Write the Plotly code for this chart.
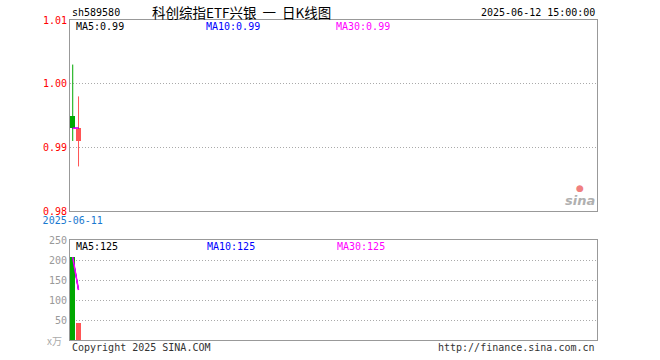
import plotly.graph_objects as go

# ---------------- data ----------------
dates = ["2025-06-11", "2025-06-12"]
opens = [0.995, 0.991]
highs = [1.003, 0.998]
lows = [0.991, 0.987]
closes = [0.993, 0.993]
volumes = [207, 43]          # 万
price_ticks = [0.98, 0.99, 1.00, 1.01]
vol_ticks = [50, 100, 150, 200, 250]
code = "sh589580"
title_text = "科创综指ETF兴银\u00a0\u00a0一\u00a0\u00a0日K线图"
stamp = "2025-06-12 15:00:00"

UP = "#ff5555"
DOWN = "#00a800"
MONO = "DejaVu Sans Mono"

def ma(vals, n):
    out = []
    for i in range(len(vals)):
        w = vals[max(0, i - n + 1): i + 1]
        out.append(sum(w) / len(w))
    return out

xs = list(range(len(dates)))
cols = [UP if c >= o else DOWN for o, c in zip(opens, closes)]

fig = go.Figure()

# wicks
for i in xs:
    fig.add_trace(go.Scatter(x=[i, i], y=[lows[i], highs[i]], mode="lines",
                             line=dict(color=cols[i], width=1), xaxis="x", yaxis="y",
                             hoverinfo="skip", showlegend=False))
# bodies
fig.add_trace(go.Bar(x=xs, y=[abs(c - o) for o, c in zip(opens, closes)],
                     base=[min(o, c) for o, c in zip(opens, closes)],
                     marker=dict(color=cols, line=dict(width=0)), width=0.8,
                     xaxis="x", yaxis="y", showlegend=False))
# price MAs
for n, c, w in [(5, "#000000", 1), (10, "#0000ff", 1), (30, "#ff00ff", 1.5)]:
    fig.add_trace(go.Scatter(x=xs, y=ma(closes, n), mode="lines",
                             line=dict(color=c, width=w), xaxis="x", yaxis="y",
                             showlegend=False))

# volume
fig.add_trace(go.Bar(x=xs, y=volumes, marker=dict(color=cols, line=dict(width=0)),
                     width=0.8, xaxis="x2", yaxis="y2", showlegend=False))
for n, c, w in [(5, "#000000", 1), (10, "#0000ff", 1), (30, "#ff00ff", 1.5)]:
    fig.add_trace(go.Scatter(x=xs, y=ma(volumes, n), mode="lines",
                             line=dict(color=c, width=w), xaxis="x2", yaxis="y2",
                             showlegend=False))

L, R, T, B = 70, 63, 20, 20
W, H = 660, 360
pw, ph = W - L - R, H - T - B

def px(x):
    return (x - L) / pw

def py(y):
    return (H - B - y) / ph

xrange_ = [-0.47, 90.4]
axis_common = dict(showline=True, mirror=True, linecolor="#999999", linewidth=1,
                   zeroline=False, fixedrange=True, automargin=False)
grid = dict(showgrid=True, gridcolor="#aaaaaa", griddash="1px,2px", gridwidth=1)

fig.update_layout(
    width=W, height=H, margin=dict(l=L, r=R, t=T, b=B),
    paper_bgcolor="white", plot_bgcolor="white",
    barmode="overlay", bargap=0,
    xaxis=dict(domain=[0, 1], anchor="y", range=xrange_, showgrid=False,
               tickmode="array", tickvals=[0], ticktext=[dates[0]],
               tickfont=dict(family=MONO, size=10, color="#1a7ad0"), ticks="",
               **axis_common),
    yaxis=dict(domain=[py(211), 1], anchor="x", range=[0.98, 1.01],
               tickmode="array", tickvals=price_ticks,
               ticktext=[f"{v:.2f}" for v in price_ticks],
               tickfont=dict(family=MONO, size=10, color="#ff0000"), ticks="",
               **grid, **axis_common),
    xaxis2=dict(domain=[0, 1], anchor="y2", range=xrange_, showgrid=False,
                showticklabels=False, ticks="", **axis_common),
    yaxis2=dict(domain=[0, py(240)], anchor="x2", range=[0, 250],
                tickmode="array", tickvals=vol_ticks, ticktext=[str(v) for v in vol_ticks],
                tickfont=dict(family=MONO, size=10, color="#999999"), ticks="",
                **grid, **axis_common),
)

ann = []
def text(x, y, s, color="#000000", size=10, family=MONO, xanchor="left", **kw):
    ann.append(dict(x=px(x), y=py(y), xref="paper", yref="paper", text=s,
                    showarrow=False, xanchor=xanchor, yanchor="middle",
                    font=dict(family=family, size=size, color=color), **kw))

text(70, 13, code)
text(150, 12, title_text, family="Noto Sans CJK SC", size=13.5)
text(597, 13, stamp, xanchor="right")

pm = [ma(closes, n)[-1] for n in (5, 10, 30)]
vm = [ma(volumes, n)[-1] for n in (5, 10, 30)]
text(74, 27, f"MA5:{pm[0]:.2f}", "#000000")
text(204, 27, f"MA10:{pm[1]:.2f}", "#0000ff")
text(334, 27, f"MA30:{pm[2]:.2f}", "#ff00ff")
text(74, 246, f"MA5:{vm[0]:.0f}", "#000000")
text(205, 246, f"MA10:{vm[1]:.0f}", "#0000ff")
text(335, 246, f"MA30:{vm[2]:.0f}", "#ff00ff")
text(64, 340, "x万", "#aaaaaa", xanchor="right", family="Noto Sans CJK SC", size=10)
text(70, 347, "Copyright 2025 SINA.COM", "#333333")
text(597, 347, "http://finance.sina.com.cn", "#333333", xanchor="right")
text(597, 200, "<b><i>sina</i></b>", "#b0b0b0", size=13, family="DejaVu Sans", xanchor="right")
text(580, 188, "●", "#f08080", size=9, family="DejaVu Sans", xanchor="center")

fig.update_layout(annotations=ann)
fig.write_html("out.html", post_script="document.body.style.margin='0';",
               config={"displayModeBar": False})
